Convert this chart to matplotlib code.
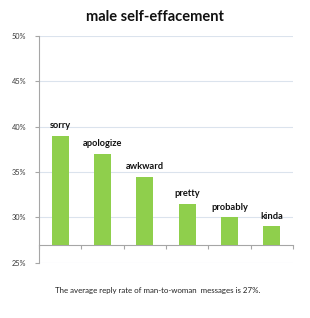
import matplotlib
matplotlib.use("Agg")
import matplotlib.pyplot as plt
from matplotlib.ticker import FuncFormatter

words = ["sorry", "apologize", "awkward", "pretty", "probably", "kinda"]
reply_rates = [39.0, 37.0, 34.5, 31.5, 30.0, 29.0]
average_rate = 27
y_ticks = [25, 30, 35, 40, 45, 50]

fig = plt.figure(figsize=(3.10, 3.18), dpi=100)
ax = fig.add_axes([39/310, 1-262.7/318, (293-39)/310, (262.7-36)/318])

x = list(range(len(words)))
heights = [v - average_rate for v in reply_rates]
ax.bar(x, heights, bottom=average_rate, width=0.4, color="#8fcf4c", zorder=3)

for xi, w, v in zip(x, words, reply_rates):
    ax.text(xi, v + 0.6, w, ha="center", va="bottom", fontsize=6.7,
            fontweight="bold", family="Lato", color="#111111", zorder=4)

ax.set_xlim(-0.5, len(words) - 0.5)
ax.set_ylim(25, 50)
ax.set_yticks(y_ticks)
ax.yaxis.set_major_formatter(FuncFormatter(lambda v, p: f"{v:.0f}%"))
ax.yaxis.grid(True, color="#dbe3ed", linewidth=0.8, zorder=0)
ax.set_xticks([i - 0.5 for i in range(len(words) + 1)])
ax.set_xticklabels([])

for s in ["top", "right"]:
    ax.spines[s].set_visible(False)
ax.spines["bottom"].set_position(("data", average_rate))
ax.spines["bottom"].set_color("#a6a6a6")
ax.spines["left"].set_color("#a6a6a6")
ax.tick_params(axis="x", direction="out", length=3, color="#a6a6a6")
ax.tick_params(axis="y", direction="out", length=3, color="#a6a6a6",
               labelsize=5.3, labelcolor="#3a3a3a", pad=6)
for lab in ax.get_yticklabels():
    lab.set_family("Lato")

fig.text(155/310, 1-17/318, "male self-effacement", ha="center", va="center",
         fontsize=10.5, fontweight="bold", family="Lato", color="#111111")
fig.text(158/310, 1-291/318,
         "The average reply rate of man-to-woman  messages is 27%.",
         ha="center", va="center", fontsize=5.7, family="Lato", color="#222222")

fig.savefig("out.png", dpi=100)
